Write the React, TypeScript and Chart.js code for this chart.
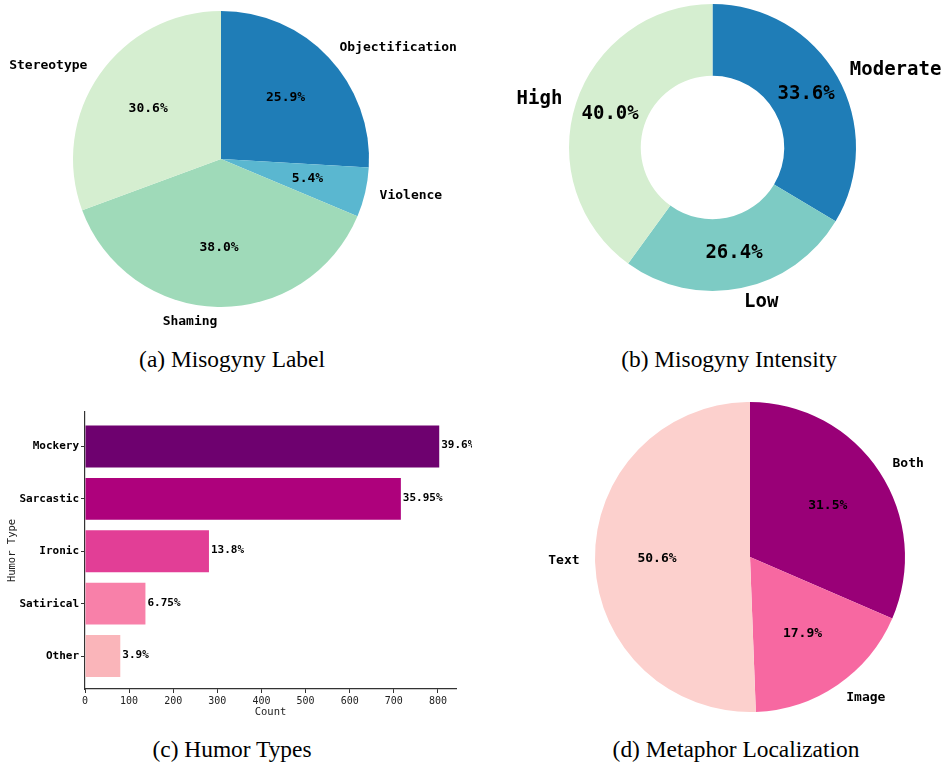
import React, { useEffect, useRef } from "react";
import { Chart, registerables } from "chart.js";

Chart.register(...registerables);

const MONO = '"DejaVu Sans Mono", monospace';

// (a) Misogyny Label
const labelCats = ["Objectification", "Violence", "Shaming", "Stereotype"];
const labelPcts = [25.9, 5.4, 38.0, 30.6];
const labelColors = ["#1f7db7", "#5ab7d0", "#9fdab9", "#d5eed0"];

// (b) Misogyny Intensity
const intensityCats = ["Moderate", "Low", "High"];
const intensityPcts = [33.6, 26.4, 40.0];
const intensityColors = ["#1f7db7", "#7dcbc4", "#d5eed0"];

// (c) Humor Types
const humorTypes = ["Mockery", "Sarcastic", "Ironic", "Satirical", "Other"];
const humorCounts = [803, 716, 281, 137, 80];
const humorPctLabels = ["39.6%", "35.95%", "13.8%", "6.75%", "3.9%"];
const humorColors = ["#6e016f", "#ae017c", "#e23e96", "#f880a9", "#fab5ba"];
const countTicks = [0, 100, 200, 300, 400, 500, 600, 700, 800];

// (d) Metaphor Localization
const metaphorCats = ["Both", "Image", "Text"];
const metaphorPcts = [31.5, 17.9, 50.6];
const metaphorColors = ["#990077", "#f768a1", "#fcd0cd"];

const captions = [
  { text: "(a) Misogyny Label", cx: 232, top: 348 },
  { text: "(b) Misogyny Intensity", cx: 729, top: 348 },
  { text: "(c) Humor Types", cx: 232, top: 738 },
  { text: "(d) Metaphor Localization", cx: 736, top: 738 },
];

function pieLabelPlugin(nameSize: number, pctSize: number, labelDist: number, pctDist: number) {
  return {
    id: "pieLabels",
    afterDatasetsDraw(chart: any) {
      const meta = chart.getDatasetMeta(0);
      const ctx = chart.ctx;
      const labels = chart.data.labels;
      const data = chart.data.datasets[0].data;
      ctx.save();
      ctx.fillStyle = "#000";
      ctx.textBaseline = "middle";
      meta.data.forEach((arc: any, i: number) => {
        const p = arc.getProps(["x", "y", "startAngle", "endAngle", "outerRadius"], true);
        const mid = (p.startAngle + p.endAngle) / 2;
        const c = Math.cos(mid);
        const s = Math.sin(mid);
        ctx.font = `bold ${nameSize}px ${MONO}`;
        ctx.textAlign = c > 0 ? "left" : "right";
        ctx.fillText(labels[i], p.x + p.outerRadius * labelDist * c, p.y + p.outerRadius * labelDist * s);
        ctx.font = `bold ${pctSize}px ${MONO}`;
        ctx.textAlign = "center";
        ctx.fillText(
          Number(data[i]).toFixed(1) + "%",
          p.x + p.outerRadius * pctDist * c,
          p.y + p.outerRadius * pctDist * s
        );
      });
      ctx.restore();
    },
  };
}

const barLabelPlugin = {
  id: "barLabels",
  afterDatasetsDraw(chart: any) {
    const meta = chart.getDatasetMeta(0);
    const ctx = chart.ctx;
    ctx.save();
    ctx.fillStyle = "#000";
    ctx.font = `bold 11px ${MONO}`;
    ctx.textAlign = "left";
    ctx.textBaseline = "middle";
    meta.data.forEach((bar: any, i: number) => {
      const p = bar.getProps(["x", "y"], true);
      ctx.fillText(humorPctLabels[i], p.x + 2, p.y - 1);
    });
    ctx.restore();
  },
};

function pieConfig(
  labels: string[],
  values: number[],
  colors: string[],
  padding: any,
  cutout: string,
  plugin: any
) {
  return {
    type: cutout === "0%" ? "pie" : "doughnut",
    data: {
      labels,
      datasets: [
        {
          data: values,
          backgroundColor: colors,
          borderWidth: 0,
          hoverOffset: 0,
          offset: 0,
        },
      ],
    },
    options: {
      animation: false,
      responsive: false,
      events: [],
      cutout,
      layout: { padding },
      plugins: { legend: { display: false }, tooltip: { enabled: false } },
    },
    plugins: [plugin],
  };
}

function barConfig() {
  const axisColor = "#333";
  return {
    type: "bar",
    data: {
      datasets: [
        {
          data: humorCounts.map((v, i) => ({ x: v, y: i })),
          backgroundColor: humorColors,
          barPercentage: 0.8,
          categoryPercentage: 1,
          borderWidth: 0,
        },
      ],
    },
    options: {
      indexAxis: "y",
      animation: false,
      responsive: false,
      events: [],
      layout: { padding: { top: 17, right: 16, left: 0, bottom: 0 } },
      scales: {
        x: {
          type: "linear",
          min: 0,
          max: 841,
          offset: false,
          afterBuildTicks: (s: any) => {
            s.ticks = countTicks.map((v) => ({ value: v }));
          },
          afterFit: (s: any) => {
            s.height = 41;
          },
          grid: { offset: false, drawOnChartArea: false, drawTicks: true, tickLength: 4, color: axisColor, lineWidth: 1 },
          border: { display: true, color: axisColor, width: 1.2 },
          ticks: {
            font: { family: MONO, size: 10 },
            color: "#222",
            padding: 2,
            maxRotation: 0,
            autoSkip: false,
            callback: (v: any) => String(v),
          },
          title: {
            display: true,
            text: "Count",
            color: "#222",
            font: { family: MONO, size: 10.5 },
            padding: { top: 0, bottom: 11 },
          },
        },
        y: {
          type: "linear",
          min: -0.66,
          max: 4.63,
          reverse: true,
          offset: false,
          afterBuildTicks: (s: any) => {
            s.ticks = humorTypes.map((_, i) => ({ value: i }));
          },
          afterFit: (s: any) => {
            s.width = 85;
          },
          grid: { offset: false, drawOnChartArea: false, drawTicks: true, tickLength: 4, color: axisColor, lineWidth: 1 },
          border: { display: true, color: axisColor, width: 1.2 },
          ticks: {
            font: { family: MONO, size: 11, weight: "bold" },
            color: "#000",
            padding: 2,
            autoSkip: false,
            callback: (v: any) => humorTypes[v],
          },
          title: {
            display: true,
            text: "Humor Type",
            color: "#222",
            font: { family: MONO, size: 10.5 },
            padding: { top: 6, bottom: 0 },
          },
        },
      },
      plugins: { legend: { display: false }, tooltip: { enabled: false } },
    },
    plugins: [barLabelPlugin],
  };
}

function ChartCanvas({
  left,
  top,
  width,
  height,
  makeConfig,
}: {
  left: number;
  top: number;
  width: number;
  height: number;
  makeConfig: () => any;
}) {
  const ref = useRef<HTMLCanvasElement>(null);
  useEffect(() => {
    const chart = new Chart(ref.current as HTMLCanvasElement, makeConfig());
    return () => chart.destroy();
  }, []);
  return (
    <canvas
      ref={ref}
      width={width}
      height={height}
      style={{ position: "absolute", left, top, width, height }}
    />
  );
}

export default function App() {
  return (
    <div
      style={{
        position: "absolute",
        left: 0,
        top: 0,
        width: 945,
        height: 765,
        background: "#fff",
        overflow: "hidden",
      }}
    >
      <ChartCanvas
        left={0}
        top={0}
        width={472}
        height={340}
        makeConfig={() =>
          pieConfig(
            labelCats,
            labelPcts,
            labelColors,
            { left: 73, right: 103, top: 11, bottom: 33 },
            "0%",
            pieLabelPlugin(13, 13, 1.1, 0.6)
          )
        }
      />
      <ChartCanvas
        left={472}
        top={0}
        width={473}
        height={340}
        makeConfig={() =>
          pieConfig(
            intensityCats,
            intensityPcts,
            intensityColors,
            { left: 97, right: 89, top: 4, bottom: 49 },
            "50%",
            pieLabelPlugin(19, 19, 1.1, 0.75)
          )
        }
      />
      <ChartCanvas left={0} top={395} width={472} height={335} makeConfig={barConfig} />
      <ChartCanvas
        left={472}
        top={390}
        width={473}
        height={340}
        makeConfig={() =>
          pieConfig(
            metaphorCats,
            metaphorPcts,
            metaphorColors,
            { left: 123, right: 40, top: 12, bottom: 18 },
            "0%",
            pieLabelPlugin(13, 13, 1.1, 0.6)
          )
        }
      />
      {captions.map((c) => (
        <div
          key={c.text}
          style={{
            position: "absolute",
            left: c.cx - 200,
            width: 400,
            top: c.top,
            textAlign: "center",
            fontFamily: '"Liberation Serif", "Times New Roman", serif',
            fontSize: 23.4,
            lineHeight: 1,
            color: "#000",
            whiteSpace: "nowrap",
          }}
        >
          {c.text}
        </div>
      ))}
    </div>
  );
}
